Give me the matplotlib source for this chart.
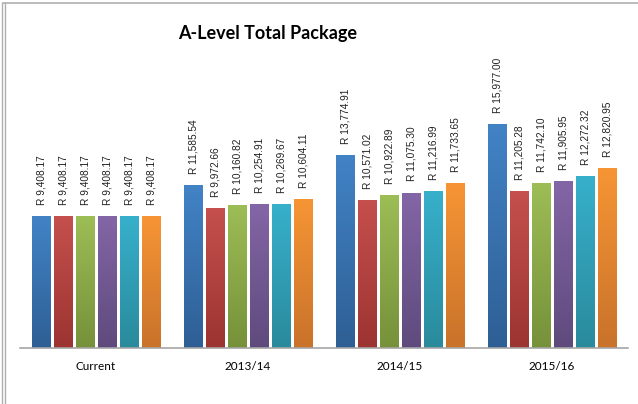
import numpy as np
import matplotlib
matplotlib.use("Agg")
import matplotlib.pyplot as plt
from matplotlib.colors import LinearSegmentedColormap
from matplotlib.lines import Line2D

# Data
categories = ["Current", "2013/14", "2014/15", "2015/16"]
series_1 = [9408.17, 11585.54, 13774.91, 15977.00]
series_2 = [9408.17, 9972.66, 10571.02, 11205.28]
series_3 = [9408.17, 10160.82, 10922.89, 11742.10]
series_4 = [9408.17, 10254.91, 11075.30, 11905.95]
series_5 = [9408.17, 10269.67, 11216.99, 12272.32]
series_6 = [9408.17, 10604.11, 11733.65, 12820.95]
all_series = [series_1, series_2, series_3, series_4, series_5, series_6]

# (top colour, bottom colour) for the Excel-like gradient
colours = [
    ("#4283c6", "#2e5f94"),
    ("#c5504d", "#9c3431"),
    ("#9dbd56", "#76913a"),
    ("#8366a6", "#5f4a7d"),
    ("#37b0cb", "#2a8a9c"),
    ("#f79535", "#c8722a"),
]

W, H = 638, 404
fig = plt.figure(figsize=(W / 100, H / 100), dpi=100)

ymax = 20000
px_per_unit = 132 / 9408.17
ax_h = ymax * px_per_unit
ax = fig.add_axes([20 / W, (H - 348) / H, 608 / W, ax_h / H])

pitch = 22 / 152
width = 18.7 / 152
x = np.arange(len(categories))

grad = np.linspace(1, 0, 256).reshape(-1, 1)
for j, vals in enumerate(all_series):
    pos = x + (j - 2.5) * pitch
    cmap = LinearSegmentedColormap.from_list("g%d" % j, [colours[j][1], colours[j][0]])
    bars = ax.bar(pos, vals, width, color=colours[j][0], linewidth=0, zorder=2)
    for b, v in zip(bars, vals):
        im = ax.imshow(grad, cmap=cmap, aspect="auto", zorder=2,
                       extent=(b.get_x(), b.get_x() + b.get_width(), 0, v),
                       vmin=0, vmax=1)
        im.set_clip_path(b)
        ax.annotate("R %s" % format(v, ",.2f"), (b.get_x() + b.get_width() / 2, v),
                    xytext=(0, 8), textcoords="offset points", rotation=90,
                    ha="center", va="bottom", fontsize=7.3,
                    family="Liberation Sans", color="#222222")

ax.set_xlim(-0.5, len(categories) - 0.5)
ax.set_ylim(0, ymax)
ax.set_xticks(x)
ax.set_xticklabels(categories, family="Lato", fontsize=8.5)
ax.tick_params(axis="x", length=0, pad=9)
ax.set_yticks([])
for s in ["top", "right", "left"]:
    ax.spines[s].set_visible(False)
ax.spines["bottom"].set_color("#a6a6a6")
ax.spines["bottom"].set_linewidth(1.2)
ax.set_facecolor("none")

fig.text(268 / W, 1 - 33 / H, "A-Level Total Package", ha="center", va="center",
         fontsize=13, fontweight="bold", family="Lato")

# chart frame (top and double left edge)
fig.add_artist(Line2D([3 / W, 1], [1 - 3 / H, 1 - 3 / H], color="#b0b0b0", lw=1.2))
fig.add_artist(Line2D([2 / W, 2 / W], [0, 1 - 3 / H], color="#b0b0b0", lw=1))
fig.add_artist(Line2D([5 / W, 5 / W], [0, 1 - 3 / H], color="#b0b0b0", lw=1))

fig.savefig("out.png", dpi=100)
